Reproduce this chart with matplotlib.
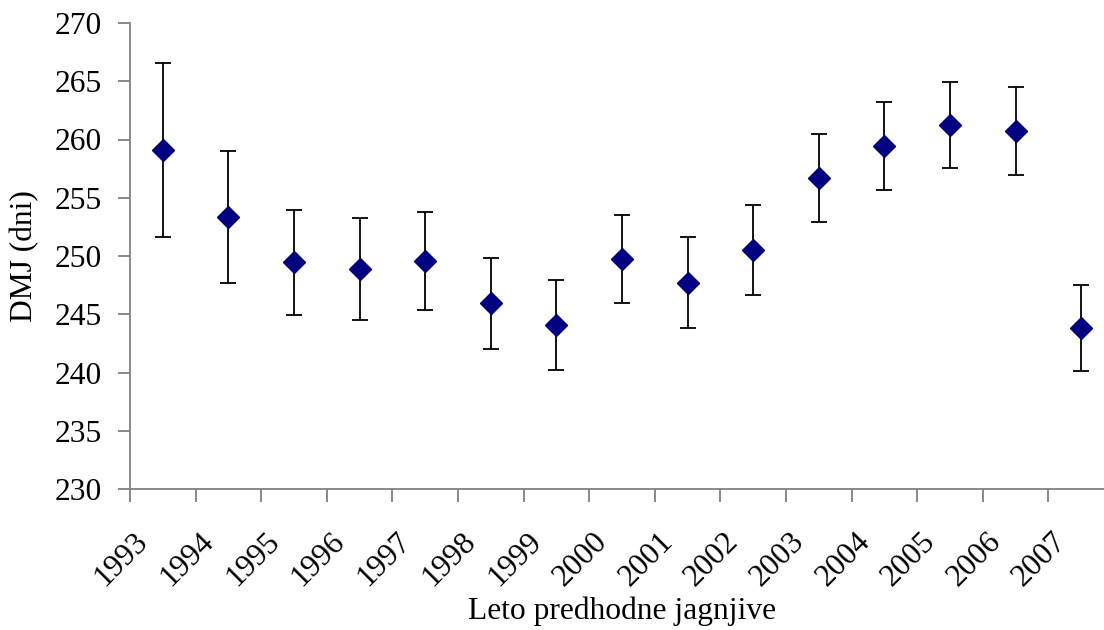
import matplotlib
matplotlib.use('Agg')
import matplotlib.pyplot as plt
import matplotlib.transforms as mtransforms
import numpy as np

years = ['1993', '1994', '1995', '1996', '1997', '1998', '1999', '2000',
         '2001', '2002', '2003', '2004', '2005', '2006', '2007']
dmj = [259.1, 253.35, 249.45, 248.9, 249.55, 245.95, 244.1, 249.75,
       247.7, 250.5, 256.7, 259.45, 261.25, 260.75, 243.8]
err = [7.5, 5.7, 4.5, 4.4, 4.2, 3.9, 3.85, 3.8,
       3.9, 3.85, 3.8, 3.78, 3.7, 3.78, 3.7]

plt.rcParams['font.family'] = ['Liberation Serif', 'DejaVu Serif']
FS = 22.7

fig = plt.figure(figsize=(11.04, 6.30), dpi=100)
ax = fig.add_axes([130 / 1104, 1 - 489 / 630, 984 / 1104, 466 / 630])

x = np.arange(len(years))
ax.errorbar(x, dmj, yerr=err, fmt='none', ecolor='black', elinewidth=1.3,
            capsize=5.8, capthick=1.3, zorder=2)
ax.plot(x, dmj, linestyle='none', marker='D', markersize=11,
        color='#000080', zorder=3)

ax.set_xlim(-0.5, len(years) - 0.5)
ax.set_ylim(230, 270)
ax.set_yticks(np.arange(230, 271, 5))

# category boundaries get the tick marks, centres get the labels
ax.set_xticks(np.arange(-0.5, len(years), 1.0))
ax.set_xticklabels([])
ax.set_xticks(x, minor=True)
ax.set_xticklabels(years, minor=True, rotation=45, ha='right',
                   rotation_mode='anchor', va='center')
ax.tick_params(axis='x', which='minor', length=0, pad=35, labelsize=FS)
ax.tick_params(axis='x', which='major', length=9, width=1.3, color='#808080',
               direction='out')
ax.tick_params(axis='y', length=9, width=1.3, color='#808080',
               direction='out', labelsize=FS, pad=11)

shift = mtransforms.ScaledTranslation(-19 / 100, 0, fig.dpi_scale_trans)
for lbl in ax.get_xticklabels(minor=True):
    lbl.set_transform(lbl.get_transform() + shift)

for s in ['top', 'right']:
    ax.spines[s].set_visible(False)
for s in ['left', 'bottom']:
    ax.spines[s].set_color('#808080')
    ax.spines[s].set_linewidth(1.3)

ax.set_ylabel('DMJ (dni)', fontsize=FS, labelpad=11)
ax.set_xlabel('Leto predhodne jagnjive', fontsize=FS, labelpad=3)

fig.savefig('out.png', dpi=100)
